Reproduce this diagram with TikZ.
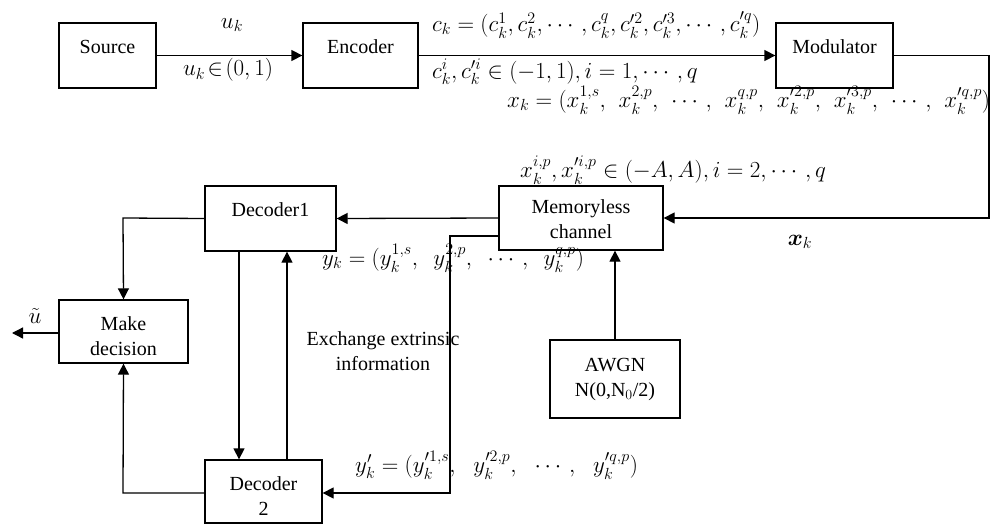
\RequirePackage{fix-cm}
\documentclass[tikz,border=0pt]{standalone}
\usepackage{amsmath}
\usepackage{fontspec}
\setmainfont{Liberation Serif}
\usetikzlibrary{arrows.meta}
\begin{document}
\begin{tikzpicture}[x=1pt,y=-1pt,
  box/.style={draw, line width=1.3pt, inner sep=0pt},
  btext/.style={font=\fontsize{20}{25}\selectfont, align=center, inner sep=0pt},
  lab/.style={font=\fontsize{23}{25}\selectfont, inner sep=0pt},
  conn/.style={line width=1.3pt, -{Triangle[length=11pt,width=11pt]}},
  plain/.style={line width=1.3pt}]
\useasboundingbox (0,0) rectangle (991,527);
% boxes
\node[box, minimum width=97pt, minimum height=65pt] (src) at (107.5,55.5) {};
\node[box, minimum width=115pt, minimum height=65pt] (enc) at (360.5,55.5) {};
\node[box, minimum width=117pt, minimum height=65pt] (mod) at (834.5,55.5) {};
\node[box, minimum width=164pt, minimum height=64pt] (mem) at (581,218) {};
\node[box, minimum width=131pt, minimum height=65pt] (dec1) at (270.5,218.5) {};
\node[box, minimum width=129pt, minimum height=63pt] (mdec) at (123.5,331.5) {};
\node[box, minimum width=117pt, minimum height=63pt] (dec2) at (263.5,491.5) {};
\node[box, minimum width=130pt, minimum height=78pt] (awgn) at (615,379) {};
% box texts
\node[btext] (tsrc) at (107.5,47) {Source};
\node[btext] (tenc) at (360.5,47) {Encoder};
\node[btext] (tmod) at (834.5,47) {Modulator};
\node[btext] (tmem) at (581,219) {Memoryless\\channel};
\node[btext] (tdec1) at (270.5,210) {Decoder1};
\node[btext] (tmdec) at (123.5,336) {Make\\decision};
\node[btext] (tdec2) at (263.5,496) {Decoder\\2};
\node[btext] (tawgn) at (615,380) {AWGN\\N(0,N$_0$/2)};
% connectors
\draw[conn] (src.east) -- (enc.west);
\draw[conn] (enc.east) -- (mod.west);
\coordinate (c1) at (989,55.5);
\coordinate (c2) at (989,218);
\draw[conn] (mod.east) -- (c1) -- (c2) -- (mem.east);
\draw[conn] (mem.west) -- (dec1.east);
\coordinate (m1) at (499,236);
\coordinate (m2) at (450,236);
\coordinate (m3) at (450,493);
\draw[conn] (m1) -- (m2) -- (m3) -- (dec2.east |- m3);
\coordinate (d1) at (123,218);
\draw[conn] (dec1.west) -- (d1) -- (mdec.north);
\coordinate (d2) at (123,493);
\draw[conn] (dec2.west |- d2) -- (d2) -- (mdec.south);
\coordinate (e1) at (239,251);
\coordinate (e2) at (287,460);
\draw[conn] (e1) -- (e1 |- dec2.north);
\draw[conn] (e2) -- (e2 |- dec1.south);
\draw[conn] (awgn.north) -- (awgn.north |- mem.south);
\coordinate (uout) at (12,333);
\draw[conn] (mdec.west |- uout) -- (uout);
% labels
\node[lab] (luk) at (232,25) {$u_k$};
\node[lab] (luk2) at (228,70) {$u_k\!\in\!(0,1)$};
\node[lab, anchor=west] (lck) at (432,25) {$c_k=(c_k^1,c_k^2,\cdots,c_k^q,c'^2_k,c'^3_k,\cdots,c'^q_k)$};
\node[lab, anchor=west] (lck2) at (432,72) {$c_k^i,c'^i_k\in(-1,1),i=1,\cdots,q$};
\node[lab, anchor=west] (lxk) at (507,100) {$x_k=(x_k^{1,s},\mkern7mu x_k^{2,p},\mkern7mu \cdots,\mkern7mu x_k^{q,p},\mkern7mu x'^{2,p}_k,\mkern7mu x'^{3,p}_k,\mkern7mu \cdots,\mkern7mu x'^{q,p}_k)$};
\node[lab, anchor=west] (lxk2) at (520,170) {$x_k^{i,p},x'^{i,p}_k\in(-A,A),i=2,\cdots,q$};
\node[lab] (lxb) at (800,242) {$\boldsymbol{x}_k$};
\node[lab, anchor=west] (lyk) at (322,258) {$y_k=(y_k^{1,s},\mkern9mu y_k^{2,p},\mkern9mu \cdots,\mkern9mu y_k^{q,p})$};
\node[lab, anchor=west] (lyk2) at (355,465) {$y'_k=(y'^{1,s}_k,\mkern11mu y'^{2,p}_k,\mkern11mu \cdots,\mkern11mu y'^{q,p}_k)$};
\node[btext] (lex) at (383,351) {Exchange extrinsic\\information};
\node[lab] (lu) at (35,316) {$\tilde{u}$};
\end{tikzpicture}
\end{document}
